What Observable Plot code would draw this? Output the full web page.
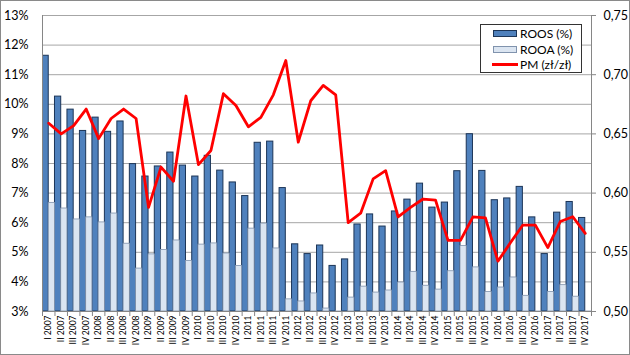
<!DOCTYPE html>
<html>
<head>
<meta charset="utf-8">
<script src="https://cdn.jsdelivr.net/npm/d3@7"></script>
<script src="https://cdn.jsdelivr.net/npm/@observablehq/plot@0.6"></script>
<style>
  html, body { margin: 0; padding: 0; background: #fff; }
  #wrap { position: relative; width: 630px; height: 355px; overflow: hidden; font-family: Lato, "Open Sans", sans-serif; }
  #frame { position: absolute; left: 0; top: 0; width: 630px; height: 355px; box-sizing: border-box; border: 1px solid #8a8a8a; pointer-events: none; }
  #legend { position: absolute; left: 480px; top: 24px; width: 102px; height: 49px; box-sizing: border-box; border: 1px solid #333; background: #fff; font-size: 12px; color: #000; padding-top: 1px; }
  .row { height: 15.5px; display: flex; align-items: center; }
  .sw { width: 24px; height: 7px; margin-left: 12px; margin-right: 3px; box-sizing: border-box; }
  .ln { width: 26px; height: 3px; margin-left: 11px; margin-right: 2px; background: #ff0000; }
</style>
</head>
<body>
<div id="wrap"><div id="chart"></div><div id="legend"></div><div id="frame"></div></div>
<script>
const quarters = ["I 2007","II 2007","III 2007","IV 2007","I 2008","II 2008","III 2008","IV 2008",
  "I 2009","II 2009","III 2009","IV 2009","I 2010","II 2010","III 2010","IV 2010",
  "I 2011","II 2011","III 2011","IV 2011","I 2012","II 2012","III 2012","IV 2012",
  "I 2013","II 2013","III 2013","IV 2013","I 2014","II 2014","III 2014","IV 2014",
  "I 2015","II 2015","III 2015","IV 2015","I 2016","II 2016","III 2016","IV 2016",
  "I 2017","II 2017","III 2017","IV 2017"];
const roos = [11.64,10.26,9.82,9.10,9.55,9.07,9.42,7.98,7.56,7.90,
  8.37,7.93,7.56,8.26,7.76,7.36,6.90,8.70,8.74,7.17,
  5.27,4.94,5.23,4.54,4.76,5.94,6.28,5.87,6.38,6.78,
  7.32,6.51,6.68,7.74,8.99,7.75,6.76,6.82,7.21,6.18,
  4.94,6.34,6.70,6.16];
const rooa = [6.67,6.48,6.11,6.18,6.01,6.31,5.29,4.45,4.93,5.08,
  5.40,4.71,5.26,5.30,4.96,4.54,5.80,5.97,5.13,3.41,
  3.34,3.61,3.10,2.98,3.47,3.84,3.64,3.71,3.98,4.34,
  3.87,3.74,4.36,5.21,4.49,3.66,3.81,4.15,3.53,2.98,
  3.66,3.89,3.50,2.98];
const pm = [0.659,0.650,0.657,0.671,0.646,0.663,0.671,0.663,0.588,0.622,
  0.610,0.682,0.624,0.636,0.684,0.674,0.656,0.664,0.683,0.712,
  0.643,0.678,0.691,0.683,0.575,0.583,0.612,0.619,0.580,0.588,
  0.595,0.594,0.560,0.560,0.580,0.579,0.5425,0.558,0.573,0.573,
  0.554,0.576,0.580,0.566];
const leftTicks = [3,4,5,6,7,8,9,10,11,12,13];
const rightTicks = [0.50,0.55,0.60,0.65,0.70,0.75];
const seriesNames = ["ROOS (%)","ROOA (%)","PM (zł/zł)"];

// map right-axis (PM) values onto the left (percent) scale
const pmToY = d3.scaleLinear([0.50, 0.75], [3, 13]);

const data = quarters.map((q, i) => ({i, q, roos: roos[i], rooa: rooa[i], pm: pm[i], pmY: pmToY(pm[i])}));

const chart = Plot.plot({
  width: 630,
  height: 355,
  marginLeft: 42,
  marginRight: 39,
  marginTop: 15,
  marginBottom: 44,
  style: {fontFamily: "Lato, 'Open Sans', sans-serif", background: "transparent"},
  x: {domain: [0, quarters.length], axis: null},
  y: {domain: [3, 13], axis: null},
  marks: [
    Plot.gridY(leftTicks, {stroke: "#a6a6a6", strokeOpacity: 1, strokeWidth: 1}),
    Plot.rectY(data, {x1: d => d.i, x2: d => d.i + 0.5, y1: 3, y2: "roos", fill: "#4f81bd", stroke: "#1c3557", strokeWidth: 1, clip: true}),
    Plot.rectY(data, {x1: d => d.i + 0.5, x2: d => d.i + 1, y1: 3, y2: "rooa", fill: "#dbe5f1", stroke: "#8093ad", strokeWidth: 0.8, clip: true}),
    Plot.ruleY([3], {stroke: "#868686"}),
    Plot.ruleX([0], {stroke: "#868686"}),
    Plot.ruleX([quarters.length], {stroke: "#868686"}),
    Plot.axisX(d3.range(quarters.length + 1), {tickSize: 5, tickFormat: () => "", stroke: "#868686"}),
    Plot.line(data, {x: d => d.i + 0.5, y: "pmY", stroke: "#ff0000", strokeWidth: 2.8, strokeLinejoin: "round"}),
    Plot.axisY(leftTicks, {anchor: "left", tickSize: 0, tickPadding: 14, tickFormat: d => d + "%", fontSize: 12.5, fill: "#000"}),
    Plot.axisY(rightTicks.map(pmToY), {anchor: "right", tickSize: 4, tickPadding: 8, stroke: "#868686", tickFormat: d => d3.format(".2f")(pmToY.invert(d)).replace(".", ","), fontSize: 12.5, fill: "#000"}),
    Plot.text(data, {x: d => d.i + 0.5, y: 3, text: "q", rotate: -90, textAnchor: "end", lineAnchor: "middle", dy: 4, fontSize: 8.5, fill: "#000"})
  ]
});
document.getElementById("chart").appendChild(chart);

// legend
const legend = document.getElementById("legend");
const swatches = [
  `<div class="sw" style="background:#4f81bd;border:1px solid #1c3557"></div>`,
  `<div class="sw" style="background:#dbe5f1;border:1px solid #8093ad"></div>`,
  `<div class="ln"></div>`
];
legend.innerHTML = seriesNames.map((n, k) => `<div class="row">${swatches[k]}<span>${n}</span></div>`).join("");
</script>
</body>
</html>
